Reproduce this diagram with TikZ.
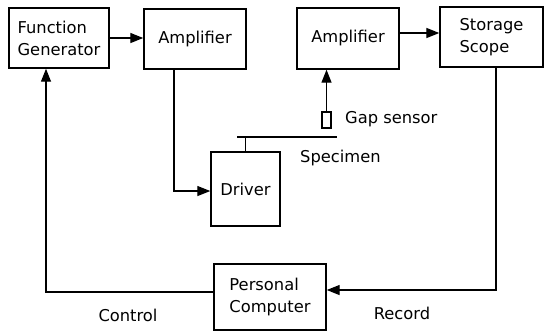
\documentclass[tikz,border=0pt]{standalone}
\usepackage{fontspec}
\setmainfont{DejaVu Sans}
\usetikzlibrary{arrows.meta}
\begin{document}
\begin{tikzpicture}[x=1pt,y=-1pt,
  every node/.style={font=\fontsize{16.3}{22}\selectfont, inner sep=0pt},
  blk/.style={draw, line width=1.4pt, rectangle, align=left},
  conn/.style={line width=1.3pt},
  arr/.style={conn, -{Triangle[length=13pt,width=10pt]}},
  lbl/.style={anchor=center}]
\useasboundingbox (0,0) rectangle (545,332);
\node[blk, minimum width=100, minimum height=60] (fg) at (59,38) {Function\\Generator};
\node[blk, minimum width=102, minimum height=60] (amp1) at (195,39) {Amplifier};
\node[blk, minimum width=102, minimum height=61] (amp2) at (348,38.5) {Amplifier};
\node[blk, minimum width=103, minimum height=60] (sto) at (491.5,37) {Storage\\Scope};
\node[blk, minimum width=69, minimum height=74] (drv) at (245.5,189) {Driver};
\node[blk, minimum width=112, minimum height=66] (pc) at (270,297) {Personal\\Computer};
\node[draw, line width=1.1pt, minimum width=9, minimum height=16] (gap) at (326.5,120) {};
\node[anchor=west] (gaplbl) at (345,119) {Gap sensor};
\node[anchor=west] (speclbl) at (300,158) {Specimen};
\node[lbl] (ctrl) at (128,315) {Control};
\node[lbl] (rec) at (402,313) {Record};
\coordinate (spL) at (237,137);
\coordinate (spR) at (337,137);
\coordinate (stub) at (245.5,137);
\draw[conn] (spL) -- (spR);
\draw[conn] (stub) -- (drv.north);
\draw[arr] (fg.east |- 0,38) -- (amp1.west |- 0,38);
\draw[arr] (amp2.east |- 0,33) -- (sto.west |- 0,33);
\draw[arr] (gap.north) -- (amp2.south -| gap.north);
\coordinate (a1d) at (174,69);
\draw[arr] (amp1.south -| a1d) |- (drv.west |- 0,191);
\coordinate (sd) at (496,67);
\draw[arr] (sto.south -| sd) |- (pc.east |- 0,290);
\coordinate (cl) at (46,292);
\draw[arr] (pc.west |- cl) -| (fg.south -| cl);
\end{tikzpicture}
\end{document}
